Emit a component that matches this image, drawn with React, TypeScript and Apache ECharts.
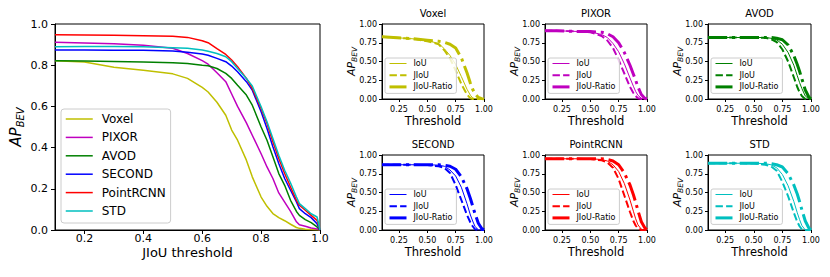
import React, { useEffect, useRef } from "react";
import * as echarts from "echarts";

// ---------- data ----------
const MODELS = ["Voxel", "PIXOR", "AVOD", "SECOND", "PointRCNN", "STD"];
const COLORS = ["#bfbf00", "#bf00bf", "#008000", "#0000ff", "#ff0000", "#00bfbf"];

const T_MAIN = [0.1, 0.2, 0.3, 0.4, 0.5, 0.55, 0.6, 0.62, 0.65, 0.68, 0.7, 0.72, 0.75, 0.77, 0.8, 0.82, 0.84, 0.86, 0.88, 0.9, 0.92, 0.93, 0.95, 0.97, 0.99, 1.0];
const MAIN_VOXEL = [0.822, 0.815, 0.79, 0.775, 0.758, 0.736, 0.692, 0.67, 0.62, 0.557, 0.485, 0.436, 0.339, 0.258, 0.16, 0.115, 0.08, 0.06, 0.045, 0.028, 0.012, 0.008, 0.004, 0.002, 0.001, 0];
const MAIN_PIXOR = [0.912, 0.908, 0.904, 0.897, 0.882, 0.857, 0.822, 0.805, 0.763, 0.72, 0.66, 0.6, 0.52, 0.46, 0.37, 0.306, 0.25, 0.18, 0.135, 0.09, 0.04, 0.025, 0.018, 0.01, 0.005, 0];
const MAIN_AVOD = [0.822, 0.82, 0.818, 0.815, 0.812, 0.808, 0.8, 0.797, 0.784, 0.76, 0.736, 0.703, 0.655, 0.606, 0.5, 0.436, 0.355, 0.274, 0.217, 0.144, 0.09, 0.071, 0.05, 0.036, 0.015, 0];
const MAIN_SECOND = [0.874, 0.874, 0.873, 0.872, 0.869, 0.863, 0.854, 0.848, 0.833, 0.817, 0.796, 0.768, 0.72, 0.679, 0.574, 0.493, 0.404, 0.323, 0.25, 0.193, 0.136, 0.104, 0.079, 0.06, 0.03, 0];
const MAIN_POINTRCNN = [0.948, 0.947, 0.945, 0.943, 0.94, 0.935, 0.919, 0.909, 0.88, 0.852, 0.825, 0.793, 0.736, 0.687, 0.59, 0.517, 0.428, 0.347, 0.274, 0.209, 0.144, 0.12, 0.096, 0.071, 0.047, 0];
const MAIN_STD = [0.89, 0.891, 0.891, 0.889, 0.885, 0.882, 0.874, 0.868, 0.857, 0.841, 0.817, 0.784, 0.736, 0.699, 0.598, 0.525, 0.444, 0.363, 0.29, 0.228, 0.16, 0.128, 0.104, 0.079, 0.063, 0];
const MAIN_VALUES = [MAIN_VOXEL, MAIN_PIXOR, MAIN_AVOD, MAIN_SECOND, MAIN_POINTRCNN, MAIN_STD];

const T_SMALL = [0.1, 0.2, 0.3, 0.4, 0.5, 0.6, 0.65, 0.7, 0.75, 0.8, 0.85, 0.88, 0.9, 0.92, 0.95, 0.98, 1.0];
const VOXEL_IOU = [0.83, 0.82, 0.81, 0.8, 0.78, 0.74, 0.67, 0.58, 0.46, 0.3, 0.13, 0.05, 0.015, 0.003, 0, 0, 0];
const VOXEL_JIOU = [0.83, 0.82, 0.81, 0.795, 0.77, 0.73, 0.65, 0.54, 0.38, 0.2, 0.06, 0.01, 0, 0, 0, 0, 0];
const VOXEL_RATIO = [0.83, 0.82, 0.81, 0.8, 0.785, 0.77, 0.755, 0.73, 0.68, 0.55, 0.35, 0.21, 0.13, 0.07, 0.02, 0.005, 0];
const PIXOR_IOU = [0.91, 0.91, 0.905, 0.9, 0.895, 0.86, 0.82, 0.74, 0.63, 0.47, 0.28, 0.17, 0.1, 0.05, 0.01, 0, 0];
const PIXOR_JIOU = [0.91, 0.91, 0.905, 0.9, 0.89, 0.84, 0.78, 0.68, 0.52, 0.34, 0.16, 0.08, 0.04, 0.01, 0, 0, 0];
const PIXOR_RATIO = [0.91, 0.91, 0.905, 0.9, 0.9, 0.89, 0.87, 0.83, 0.75, 0.62, 0.45, 0.33, 0.25, 0.16, 0.06, 0.01, 0];
const AVOD_IOU = [0.82, 0.82, 0.82, 0.82, 0.82, 0.82, 0.81, 0.79, 0.73, 0.62, 0.45, 0.31, 0.22, 0.14, 0.04, 0.005, 0];
const AVOD_JIOU = [0.82, 0.82, 0.82, 0.82, 0.82, 0.815, 0.8, 0.76, 0.66, 0.5, 0.29, 0.16, 0.09, 0.04, 0, 0, 0];
const AVOD_RATIO = [0.82, 0.82, 0.82, 0.82, 0.82, 0.82, 0.82, 0.81, 0.79, 0.72, 0.58, 0.46, 0.37, 0.27, 0.12, 0.03, 0];
const SECOND_IOU = [0.87, 0.87, 0.87, 0.87, 0.87, 0.865, 0.85, 0.8, 0.72, 0.57, 0.35, 0.2, 0.12, 0.05, 0, 0, 0];
const SECOND_JIOU = [0.87, 0.87, 0.87, 0.87, 0.865, 0.85, 0.83, 0.76, 0.6, 0.4, 0.2, 0.1, 0.05, 0.01, 0, 0, 0];
const SECOND_RATIO = [0.87, 0.87, 0.87, 0.87, 0.87, 0.87, 0.865, 0.85, 0.81, 0.71, 0.55, 0.42, 0.32, 0.22, 0.09, 0.02, 0];
const POINTRCNN_IOU = [0.95, 0.95, 0.95, 0.95, 0.95, 0.94, 0.92, 0.87, 0.78, 0.62, 0.4, 0.25, 0.15, 0.07, 0.01, 0, 0];
const POINTRCNN_JIOU = [0.95, 0.95, 0.95, 0.95, 0.945, 0.93, 0.9, 0.83, 0.68, 0.46, 0.24, 0.12, 0.06, 0.02, 0, 0, 0];
const POINTRCNN_RATIO = [0.95, 0.95, 0.95, 0.95, 0.95, 0.95, 0.94, 0.92, 0.87, 0.76, 0.6, 0.47, 0.37, 0.26, 0.11, 0.03, 0];
const STD_IOU = [0.89, 0.89, 0.89, 0.89, 0.89, 0.885, 0.87, 0.83, 0.74, 0.59, 0.38, 0.23, 0.14, 0.06, 0, 0, 0];
const STD_JIOU = [0.89, 0.89, 0.89, 0.89, 0.885, 0.87, 0.85, 0.79, 0.64, 0.45, 0.23, 0.11, 0.05, 0.01, 0, 0, 0];
const STD_RATIO = [0.89, 0.89, 0.89, 0.89, 0.89, 0.89, 0.885, 0.87, 0.84, 0.75, 0.6, 0.48, 0.38, 0.27, 0.12, 0.03, 0];
const SMALL_VALUES = [
  [VOXEL_IOU, VOXEL_JIOU, VOXEL_RATIO],
  [PIXOR_IOU, PIXOR_JIOU, PIXOR_RATIO],
  [AVOD_IOU, AVOD_JIOU, AVOD_RATIO],
  [SECOND_IOU, SECOND_JIOU, SECOND_RATIO],
  [POINTRCNN_IOU, POINTRCNN_JIOU, POINTRCNN_RATIO],
  [STD_IOU, STD_JIOU, STD_RATIO],
];
const METRICS = ["IoU", "JIoU", "JIoU-Ratio"];

const MAIN_X_TICKS = [0.2, 0.4, 0.6, 0.8, 1.0];
const SMALL_X_TICKS = [0.25, 0.5, 0.75, 1.0];

const FONT = "DejaVu Sans";

export default function App() {
  const ref = useRef<HTMLDivElement>(null);
  useEffect(() => {
    const chart = echarts.init(ref.current!, null, { renderer: "svg" });

    const grids: any[] = [{ left: 55, top: 24, width: 265, height: 206 }];
    const smallLefts = [382, 545, 708];
    const smallWidths = [102, 102, 103];
    const smallTops = [24, 155];
    for (let i = 0; i < 6; i++) {
      grids.push({
        left: smallLefts[i % 3],
        top: smallTops[Math.floor(i / 3)],
        width: smallWidths[i % 3],
        height: 75,
      });
    }
    grids.forEach((g) => {
      g.show = true;
      g.borderColor = "#000";
      g.borderWidth = 1;
      g.backgroundColor = "transparent";
    });

    const xAxes: any[] = [];
    const yAxes: any[] = [];
    xAxes.push({
      type: "value", gridIndex: 0, min: 0.1, max: 1.0,
      name: "JIoU threshold", nameLocation: "middle", nameGap: 16, nameMoveOverlap: false,
      nameTextStyle: { fontFamily: FONT, fontSize: 13, color: "#000" },
      axisLine: { lineStyle: { color: "#000", width: 1 } },
      axisTick: { show: true, length: 4, lineStyle: { color: "#000" }, customValues: MAIN_X_TICKS },
      axisLabel: { customValues: MAIN_X_TICKS, formatter: (v: number) => v.toFixed(1), fontFamily: FONT, fontSize: 11, color: "#000", margin: 3 },
      splitLine: { show: false },
    });
    yAxes.push({
      type: "value", gridIndex: 0, min: 0, max: 1, interval: 0.2,
      name: "{a|AP}{b|BEV}", nameLocation: "middle", nameGap: 30, nameMoveOverlap: false,
      nameTextStyle: {
        rich: {
          a: { fontFamily: FONT, fontSize: 15, fontStyle: "italic", color: "#000", lineHeight: 18 },
          b: { fontFamily: FONT, fontSize: 10, fontStyle: "italic", color: "#000", verticalAlign: "bottom", lineHeight: 10 },
        },
      },
      axisLine: { show: true, lineStyle: { color: "#000", width: 1 } },
      axisTick: { show: true, length: 4, lineStyle: { color: "#000" } },
      axisLabel: { formatter: (v: number) => v.toFixed(1), fontFamily: FONT, fontSize: 11, color: "#000", margin: 7 },
      splitLine: { show: false },
    });
    for (let i = 0; i < 6; i++) {
      xAxes.push({
        type: "value", gridIndex: i + 1, min: 0.1, max: 1.0,
        name: "Threshold", nameLocation: "middle", nameGap: 16, nameMoveOverlap: false,
        nameTextStyle: { fontFamily: FONT, fontSize: 11.5, color: "#000" },
        axisLine: { lineStyle: { color: "#000", width: 1 } },
        axisTick: { show: true, length: 3, lineStyle: { color: "#000" }, customValues: SMALL_X_TICKS },
        axisLabel: { customValues: SMALL_X_TICKS, formatter: (v: number) => v.toFixed(2), fontFamily: FONT, fontSize: 8, color: "#000", margin: 6 },
        splitLine: { show: false },
      });
      yAxes.push({
        type: "value", gridIndex: i + 1, min: 0, max: 1, interval: 0.25,
        name: "{a|AP}{b|BEV}", nameLocation: "middle", nameGap: 24, nameMoveOverlap: false,
        nameTextStyle: {
          rich: {
            a: { fontFamily: FONT, fontSize: 11, fontStyle: "italic", color: "#000", lineHeight: 13 },
            b: { fontFamily: FONT, fontSize: 7.5, fontStyle: "italic", color: "#000", verticalAlign: "bottom", lineHeight: 8 },
          },
        },
        axisLine: { show: true, lineStyle: { color: "#000", width: 1 } },
        axisTick: { show: true, length: 3, lineStyle: { color: "#000" } },
        axisLabel: { formatter: (v: number) => v.toFixed(2), fontFamily: FONT, fontSize: 8, color: "#000", margin: 5 },
        splitLine: { show: false },
      });
    }

    const series: any[] = [];
    MODELS.forEach((m, i) => {
      series.push({
        type: "line", name: m, xAxisIndex: 0, yAxisIndex: 0,
        data: T_MAIN.map((t, k) => [t, MAIN_VALUES[i][k]]),
        symbol: "none", color: COLORS[i],
        lineStyle: { width: 1.5, color: COLORS[i] },
      });
    });
    const styles = [
      { width: 1, type: "solid" },
      { width: 2, type: [7.4, 3.2] },
      { width: 3, type: [19.2, 4.8, 3, 4.8] },
    ];
    MODELS.forEach((m, i) => {
      METRICS.forEach((met, j) => {
        series.push({
          type: "line", name: m + "/" + met, xAxisIndex: i + 1, yAxisIndex: i + 1,
          data: T_SMALL.map((t, k) => [t, SMALL_VALUES[i][j][k]]),
          symbol: "none", color: COLORS[i],
          lineStyle: { width: styles[j].width, type: styles[j].type, color: COLORS[i] },
        });
      });
    });

    const legends: any[] = [
      {
        orient: "vertical", left: 61, top: 109, data: MODELS,
        itemWidth: 27, itemHeight: 14, itemGap: 4.4,
        padding: [3, 5, 5, 4],
        backgroundColor: "rgba(255,255,255,0.8)", borderColor: "#cccccc", borderWidth: 1, borderRadius: 3,
        textStyle: { fontFamily: FONT, fontSize: 12, fontWeight: "normal", color: "#000", lineHeight: 14, padding: [0, 0, 0, 4] },
        lineStyle: { width: "inherit" },
        itemStyle: { opacity: 0, borderWidth: 0 },
        selectedMode: false,
      },
    ];
    MODELS.forEach((m, i) => {
      legends.push({
        orient: "vertical",
        left: smallLefts[i % 3] + 3,
        top: smallTops[Math.floor(i / 3)] + 34,
        data: METRICS.map((met) => m + "/" + met),
        formatter: (n: string) => n.split("/")[1],
        itemWidth: 17, itemHeight: 9, itemGap: 2.7,
        padding: [1, 4, 2, 3],
        backgroundColor: "rgba(255,255,255,0.8)", borderColor: "#cccccc", borderWidth: 1, borderRadius: 2,
        textStyle: { fontFamily: FONT, fontSize: 8, fontWeight: "normal", color: "#000", lineHeight: 9, padding: [0, 0, 0, 2] },
        lineStyle: { width: "inherit", type: "inherit" },
        itemStyle: { opacity: 0, borderWidth: 0 },
        selectedMode: false,
      });
    });

    const titles: any[] = MODELS.map((m, i) => ({
      text: m,
      left: smallLefts[i % 3] + smallWidths[i % 3] / 2,
      top: smallTops[Math.floor(i / 3)] - 16,
      textAlign: "center",
      padding: 0,
      textStyle: { fontFamily: FONT, fontSize: 10, fontWeight: "normal", color: "#000" },
    }));

    chart.setOption({
      animation: false,
      backgroundColor: "#fff",
      grid: grids,
      xAxis: xAxes,
      yAxis: yAxes,
      series,
      legend: legends,
      title: titles,
    });
    return () => chart.dispose();
  }, []);
  return (
    <div
      ref={ref}
      style={{ position: "fixed", left: 0, top: 0, width: 830, height: 277 }}
    />
  );
}
